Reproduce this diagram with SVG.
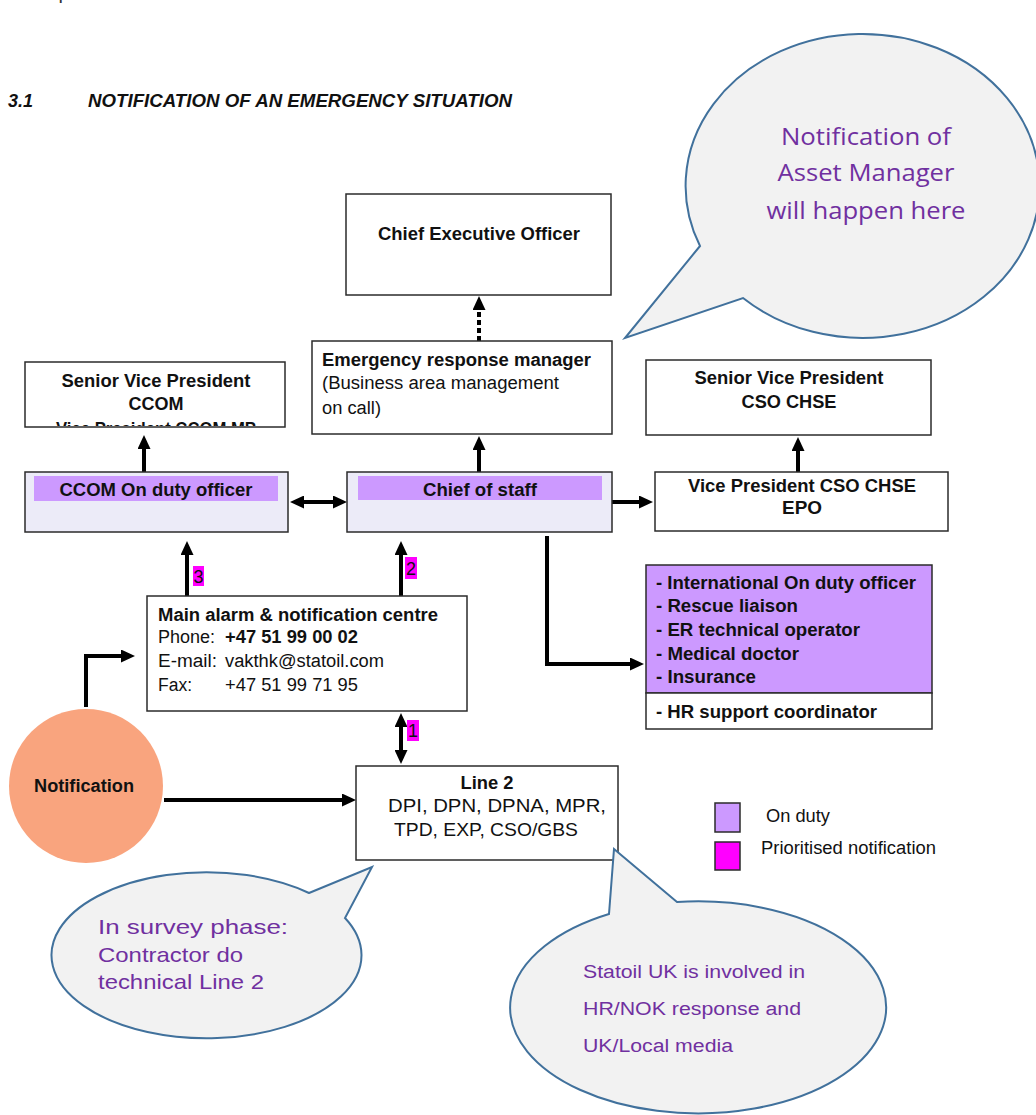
<svg xmlns="http://www.w3.org/2000/svg" width="1036" height="1115" viewBox="0 0 1036 1115">
<style>
.box{fill:#fff;stroke:#2b2b2b;stroke-width:1.5}
.duty{fill:#ecebf8;stroke:#2b2b2b;stroke-width:1.5}
.band{fill:#cc99ff}
.t{font-family:"Liberation Sans Narrow","Arial Narrow","Liberation Sans",Arial,sans-serif;font-size:18px;fill:#111}
.b{font-weight:bold}
.m{text-anchor:middle}
.conn{stroke:#000;stroke-width:4;fill:none}
.callout{fill:#f2f2f2;stroke:#41719c;stroke-width:2}
.ct{fill:#7030a0;font-family:"Liberation Sans",Arial,sans-serif}
.cs{fill:#7030a0;font-family:"Open Sans","Noto Sans",sans-serif;font-size:24px;text-anchor:middle}
.tag{fill:#ff00ff}
</style>
<defs>
<marker id="ah" viewBox="0 0 14 13" refX="2" refY="6.5" markerWidth="14" markerHeight="13" markerUnits="userSpaceOnUse" orient="auto-start-reverse">
<path d="M0,0 L14,6.5 L0,13 z" fill="#000"/>
</marker>
<clipPath id="clipSvp"><rect x="26" y="363" width="258" height="63"/></clipPath>
</defs>
<rect width="1036" height="1115" fill="#fff"/>

<g id="header">
<text x="14" y="-1" font-family="Liberation Sans,Arial,sans-serif" font-size="20" fill="#333">Group</text>
<text class="t b" x="8" y="107" font-style="italic" font-size="19">3.1</text>
<text class="t b" x="88" y="107" font-style="italic" font-size="19" textLength="424" lengthAdjust="spacingAndGlyphs">NOTIFICATION OF AN EMERGENCY SITUATION</text>
</g>

<g id="connectors">
<line class="conn" x1="479" y1="349" x2="479" y2="308" stroke-dasharray="5 3" marker-end="url(#ah)"/>
<line class="conn" x1="144" y1="472" x2="144" y2="447" marker-end="url(#ah)"/>
<line class="conn" x1="479" y1="472" x2="479" y2="448" marker-end="url(#ah)"/>
<line class="conn" x1="798" y1="472" x2="798" y2="449" marker-end="url(#ah)"/>
<line class="conn" x1="302" y1="502" x2="335" y2="502" marker-start="url(#ah)" marker-end="url(#ah)"/>
<line class="conn" x1="612" y1="502" x2="641" y2="502" marker-end="url(#ah)"/>
<path class="conn" d="M547,536 L547,664 L632,664" marker-end="url(#ah)"/>
<line class="conn" x1="187" y1="596" x2="187" y2="553" marker-end="url(#ah)"/>
<line class="conn" x1="401" y1="596" x2="401" y2="553" marker-end="url(#ah)"/>
<line class="conn" x1="401" y1="725" x2="401" y2="752" marker-start="url(#ah)" marker-end="url(#ah)"/>
<path class="conn" d="M86,707 V656 H123" marker-end="url(#ah)"/>
<line class="conn" x1="164" y1="800" x2="344" y2="800" marker-end="url(#ah)"/>
</g>

<g id="labels">
<rect class="tag" x="193" y="566" width="11" height="20"/>
<text class="t m" x="198.5" y="583">3</text>
<rect class="tag" x="405" y="557" width="12" height="22"/>
<text class="t m" x="411" y="575">2</text>
<rect class="tag" x="407" y="720" width="12" height="21"/>
<text class="t m" x="413" y="737">1</text>
</g>

<g id="ceo">
<rect class="box" x="346" y="194" width="265" height="101"/>
<text class="t b m" x="479" y="240" textLength="202" lengthAdjust="spacingAndGlyphs">Chief Executive Officer</text>
</g>

<g id="erm">
<rect class="box" x="312" y="341" width="300" height="93"/>
<text class="t b" x="322" y="366" textLength="269" lengthAdjust="spacingAndGlyphs">Emergency response manager</text>
<text class="t" x="322" y="389" textLength="237" lengthAdjust="spacingAndGlyphs">(Business area management</text>
<text class="t" x="322" y="414" textLength="59" lengthAdjust="spacingAndGlyphs">on call)</text>
</g>

<g id="svp-ccom">
<rect class="box" x="25" y="362" width="260" height="65"/>
<text class="t b m" x="156" y="387" textLength="189" lengthAdjust="spacingAndGlyphs">Senior Vice President</text>
<text class="t b m" x="156" y="410" textLength="55" lengthAdjust="spacingAndGlyphs">CCOM</text>
<text class="t b m" x="156" y="435" clip-path="url(#clipSvp)" textLength="200" lengthAdjust="spacingAndGlyphs">Vice President CCOM MP</text>
</g>

<g id="svp-cso">
<rect class="box" x="646" y="360" width="285" height="75"/>
<text class="t b m" x="789" y="384" textLength="189" lengthAdjust="spacingAndGlyphs">Senior Vice President</text>
<text class="t b m" x="789" y="408" textLength="95" lengthAdjust="spacingAndGlyphs">CSO CHSE</text>
</g>

<g id="ccom-duty">
<rect class="duty" x="25" y="472" width="263" height="60"/>
<rect class="band" x="34" y="476" width="244" height="25"/>
<text class="t b m" x="156" y="496" textLength="193" lengthAdjust="spacingAndGlyphs">CCOM On duty officer</text>
</g>

<g id="chief-of-staff">
<rect class="duty" x="347" y="472" width="265" height="60"/>
<rect class="band" x="358" y="476" width="244" height="24"/>
<text class="t b m" x="480" y="496" textLength="114" lengthAdjust="spacingAndGlyphs">Chief of staff</text>
</g>

<g id="vp-cso">
<rect class="box" x="655" y="472" width="293" height="59"/>
<text class="t b m" x="802" y="492" textLength="228" lengthAdjust="spacingAndGlyphs">Vice President CSO CHSE</text>
<text class="t b m" x="802" y="514" textLength="40" lengthAdjust="spacingAndGlyphs">EPO</text>
</g>

<g id="international">
<rect x="646" y="565" width="286" height="128" fill="#cc99ff" stroke="#2b2b2b" stroke-width="1.5"/>
<rect class="box" x="646" y="693" width="286" height="36"/>
<text class="t b" x="656" y="589" textLength="260" lengthAdjust="spacingAndGlyphs">- International On duty officer</text>
<text class="t b" x="656" y="612" textLength="142" lengthAdjust="spacingAndGlyphs">- Rescue liaison</text>
<text class="t b" x="656" y="636" textLength="204" lengthAdjust="spacingAndGlyphs">- ER technical operator</text>
<text class="t b" x="656" y="660" textLength="143" lengthAdjust="spacingAndGlyphs">- Medical doctor</text>
<text class="t b" x="656" y="683" textLength="100" lengthAdjust="spacingAndGlyphs">- Insurance</text>
<text class="t b" x="656" y="718" textLength="221" lengthAdjust="spacingAndGlyphs">- HR support coordinator</text>
</g>

<g id="main-alarm">
<rect class="box" x="147" y="596" width="320" height="115"/>
<text class="t b" x="158" y="621" textLength="280" lengthAdjust="spacingAndGlyphs">Main alarm &amp; notification centre</text>
<text class="t" x="158" y="643" textLength="57" lengthAdjust="spacingAndGlyphs">Phone:</text>
<text class="t b" x="225" y="643" textLength="133" lengthAdjust="spacingAndGlyphs">+47 51 99 00 02</text>
<text class="t" x="158" y="667" textLength="59" lengthAdjust="spacingAndGlyphs">E-mail:</text>
<text class="t" x="225" y="667" textLength="159" lengthAdjust="spacingAndGlyphs">vakthk@statoil.com</text>
<text class="t" x="158" y="691" textLength="34" lengthAdjust="spacingAndGlyphs">Fax:</text>
<text class="t" x="225" y="691" textLength="133" lengthAdjust="spacingAndGlyphs">+47 51 99 71 95</text>
</g>

<g id="notification">
<circle cx="86" cy="786" r="77" fill="#f9a47e"/>
<text class="t b m" x="84" y="792" textLength="100" lengthAdjust="spacingAndGlyphs">Notification</text>
</g>

<g id="line2">
<rect class="box" x="356" y="766" width="262" height="94"/>
<text class="t b m" x="487" y="789" textLength="53" lengthAdjust="spacingAndGlyphs">Line 2</text>
<text class="t m" x="497" y="812" textLength="218" lengthAdjust="spacingAndGlyphs">DPI, DPN, DPNA, MPR,</text>
<text class="t m" x="486" y="836" textLength="184" lengthAdjust="spacingAndGlyphs">TPD, EXP, CSO/GBS</text>
</g>

<g id="legend">
<rect x="715" y="803" width="25" height="29" fill="#cc99ff" stroke="#2b2b2b" stroke-width="1.5"/>
<text class="t" x="766" y="822" textLength="64" lengthAdjust="spacingAndGlyphs">On duty</text>
<rect x="715" y="842" width="25" height="28" fill="#ff00ff" stroke="#2b2b2b" stroke-width="1.5"/>
<text class="t" x="761" y="854" textLength="175" lengthAdjust="spacingAndGlyphs">Prioritised notification</text>
</g>

<g id="callout-asset">
<path class="callout" d="M700,246 L625,338 L743,298 A177,152 0 1 0 700,246 Z"/>
<text class="cs" x="866" y="145" textLength="170" lengthAdjust="spacingAndGlyphs">Notification of</text>
<text class="cs" x="866" y="181" textLength="177" lengthAdjust="spacingAndGlyphs">Asset Manager</text>
<text class="cs" x="866" y="219" textLength="199" lengthAdjust="spacingAndGlyphs">will happen here</text>
</g>

<g id="callout-survey">
<path class="callout" d="M309,893 L372,867 L345,918 A155,83 0 1 1 309,893 Z"/>
<text class="ct" x="98" y="934" font-size="21" textLength="190" lengthAdjust="spacingAndGlyphs">In survey phase:</text>
<text class="ct" x="98" y="962" font-size="21" textLength="145" lengthAdjust="spacingAndGlyphs">Contractor do</text>
<text class="ct" x="98" y="989" font-size="21" textLength="166" lengthAdjust="spacingAndGlyphs">technical Line 2</text>
</g>

<g id="callout-uk">
<path class="callout" d="M609,914 L614,849 L677,902 A188,106 0 1 1 609,914 Z"/>
<text class="ct" x="583" y="978" font-size="18" textLength="222" lengthAdjust="spacingAndGlyphs">Statoil UK is involved in</text>
<text class="ct" x="583" y="1015" font-size="18" textLength="218" lengthAdjust="spacingAndGlyphs">HR/NOK response and</text>
<text class="ct" x="583" y="1052" font-size="18" textLength="150" lengthAdjust="spacingAndGlyphs">UK/Local media</text>
</g>
</svg>
